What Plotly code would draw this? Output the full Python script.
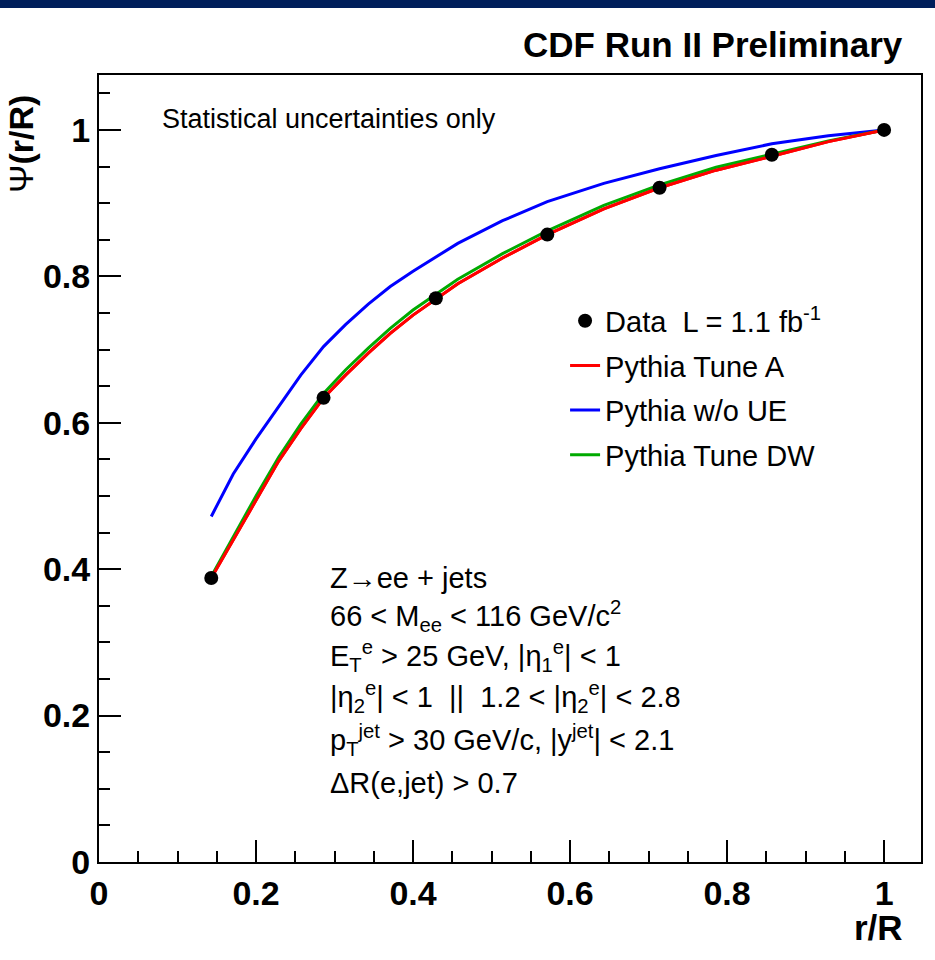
import plotly.graph_objects as go

# ---- data ----
data_x = [0.143, 0.286, 0.429, 0.571, 0.714, 0.857, 1.0]
data_y = [0.388, 0.634, 0.770, 0.857, 0.921, 0.966, 1.0]

mc_x = [0.143, 0.171, 0.2, 0.229, 0.257, 0.286, 0.314, 0.343, 0.371, 0.4,
        0.457, 0.514, 0.571, 0.643, 0.714, 0.786, 0.857, 0.929, 1.0]
tune_a = [0.388, 0.440, 0.495, 0.548, 0.592, 0.634, 0.665, 0.695, 0.722, 0.747,
          0.790, 0.825, 0.857, 0.892, 0.921, 0.945, 0.964, 0.984, 1.0]
no_ue = [0.472, 0.530, 0.578, 0.622, 0.665, 0.704, 0.734, 0.762, 0.786, 0.807,
         0.845, 0.876, 0.902, 0.927, 0.947, 0.965, 0.981, 0.992, 1.0]
tune_dw = [0.390, 0.445, 0.500, 0.553, 0.598, 0.640, 0.672, 0.702, 0.729, 0.754,
           0.796, 0.831, 0.862, 0.897, 0.925, 0.949, 0.967, 0.985, 1.0]

x_ticks = [0, 0.2, 0.4, 0.6, 0.8, 1]
y_ticks = [0, 0.2, 0.4, 0.6, 0.8, 1]

FONT = "Liberation Sans"

fig = go.Figure()
fig.add_trace(go.Scatter(x=mc_x, y=tune_a, mode="lines", name="Pythia Tune A",
                         line=dict(color="#ff0000", width=3), legendrank=2,
                         legendgroup="a"))
fig.add_trace(go.Scatter(x=mc_x, y=no_ue, mode="lines", name="Pythia w/o UE",
                         line=dict(color="#0000ff", width=3), legendrank=3,
                         legendgroup="b"))
fig.add_trace(go.Scatter(x=mc_x, y=tune_dw, mode="lines", name="Pythia Tune DW",
                         line=dict(color="#00aa00", width=3), legendrank=4,
                         legendgroup="c"))
# red drawn again on top of green, as in the reference
fig.add_trace(go.Scatter(x=mc_x, y=tune_a, mode="lines", showlegend=False,
                         line=dict(color="#ff0000", width=3), hoverinfo="skip"))
fig.add_trace(go.Scatter(x=data_x, y=data_y, mode="markers",
                         name="Data  L = 1.1 fb<sup>-1</sup>",
                         marker=dict(color="black", size=14), legendrank=1,
                         legendgroup="d"))

axis_common = dict(
    showgrid=False, zeroline=False, showline=True, linecolor="black",
    linewidth=2, mirror=True, ticks="inside", tickcolor="black",
    tickwidth=1.5, ticklen=22,
    tickfont=dict(family=FONT, size=34, color="black", weight="bold"),
    minor=dict(ticks="inside", ticklen=11, tickcolor="black", tickwidth=1.5,
               dtick=0.05),
)

fig.update_xaxes(range=[0, 1.047], tickvals=x_ticks,
                 ticktext=[("%g" % v) for v in x_ticks], **axis_common)
fig.update_yaxes(range=[0, 1.075], tickvals=y_ticks,
                 ticktext=[("%g" % v) for v in y_ticks], **axis_common)

fig.update_layout(
    width=935, height=960,
    margin=dict(l=99, r=14, t=75, b=98),
    paper_bgcolor="white", plot_bgcolor="white",
    showlegend=True,
    legend=dict(x=0.567, y=0.72, xanchor="left", yanchor="top",
                bgcolor="rgba(0,0,0,0)", borderwidth=0,
                font=dict(family=FONT, size=29, color="black"),
                traceorder="grouped", tracegroupgap=4),
)

fig.add_shape(type="rect", xref="paper", yref="paper",
              x0=-0.2, x1=1.1, y0=1.0851, y1=1.12,
              fillcolor="#001f5b", line=dict(width=0), layer="above")

ann = []
ann.append(dict(text="<b>CDF Run II Preliminary</b>", xref="paper", yref="paper",
                x=0.9805, y=1.0, xanchor="right", yanchor="bottom", yshift=9,
                showarrow=False, font=dict(family=FONT, size=35, color="black")))
ann.append(dict(text="<b>r/R</b>", xref="paper", yref="paper",
                x=0.981, y=0, xanchor="right", yanchor="top", yshift=-44,
                showarrow=False, font=dict(family=FONT, size=35, color="black")))
ann.append(dict(text="Ψ<b>(r/R)</b>", xref="paper", yref="paper",
                x=0, y=1.0, xanchor="left", yanchor="top", xshift=-99, yshift=-18,
                textangle=-90,
                showarrow=False, font=dict(family=FONT, size=34, color="black")))
ann.append(dict(text="Statistical uncertainties only", xref="paper", yref="paper",
                x=0, y=1.0, xanchor="left", yanchor="middle", xshift=61, yshift=-44,
                showarrow=False, font=dict(family=FONT, size=27, color="black")))

lines = [
    "Z→ee + jets",
    "66 < M<sub>ee</sub> < 116 GeV/c<sup>2</sup>",
    "E<sub>T</sub><sup>e</sup> > 25 GeV, |η<sub>1</sub><sup>e</sup>| < 1",
    "|η<sub>2</sub><sup>e</sup>| < 1  ||  1.2 < |η<sub>2</sub><sup>e</sup>| < 2.8",
    "p<sub>T</sub><sup>jet</sup> > 30 GeV/c, |y<sup>jet</sup>| < 2.1",
    "ΔR(e,jet) > 0.7",
]
line_px = [578, 616, 656, 697, 740, 783]
for t, py in zip(lines, line_px):
    ann.append(dict(text=t, xref="paper", yref="paper",
                    x=(328 - 99) / 822, y=(862 - py) / 787,
                    xanchor="left", yanchor="middle", showarrow=False,
                    font=dict(family=FONT, size=29, color="black")))
fig.update_layout(annotations=ann)

fig.write_html("out.html")
